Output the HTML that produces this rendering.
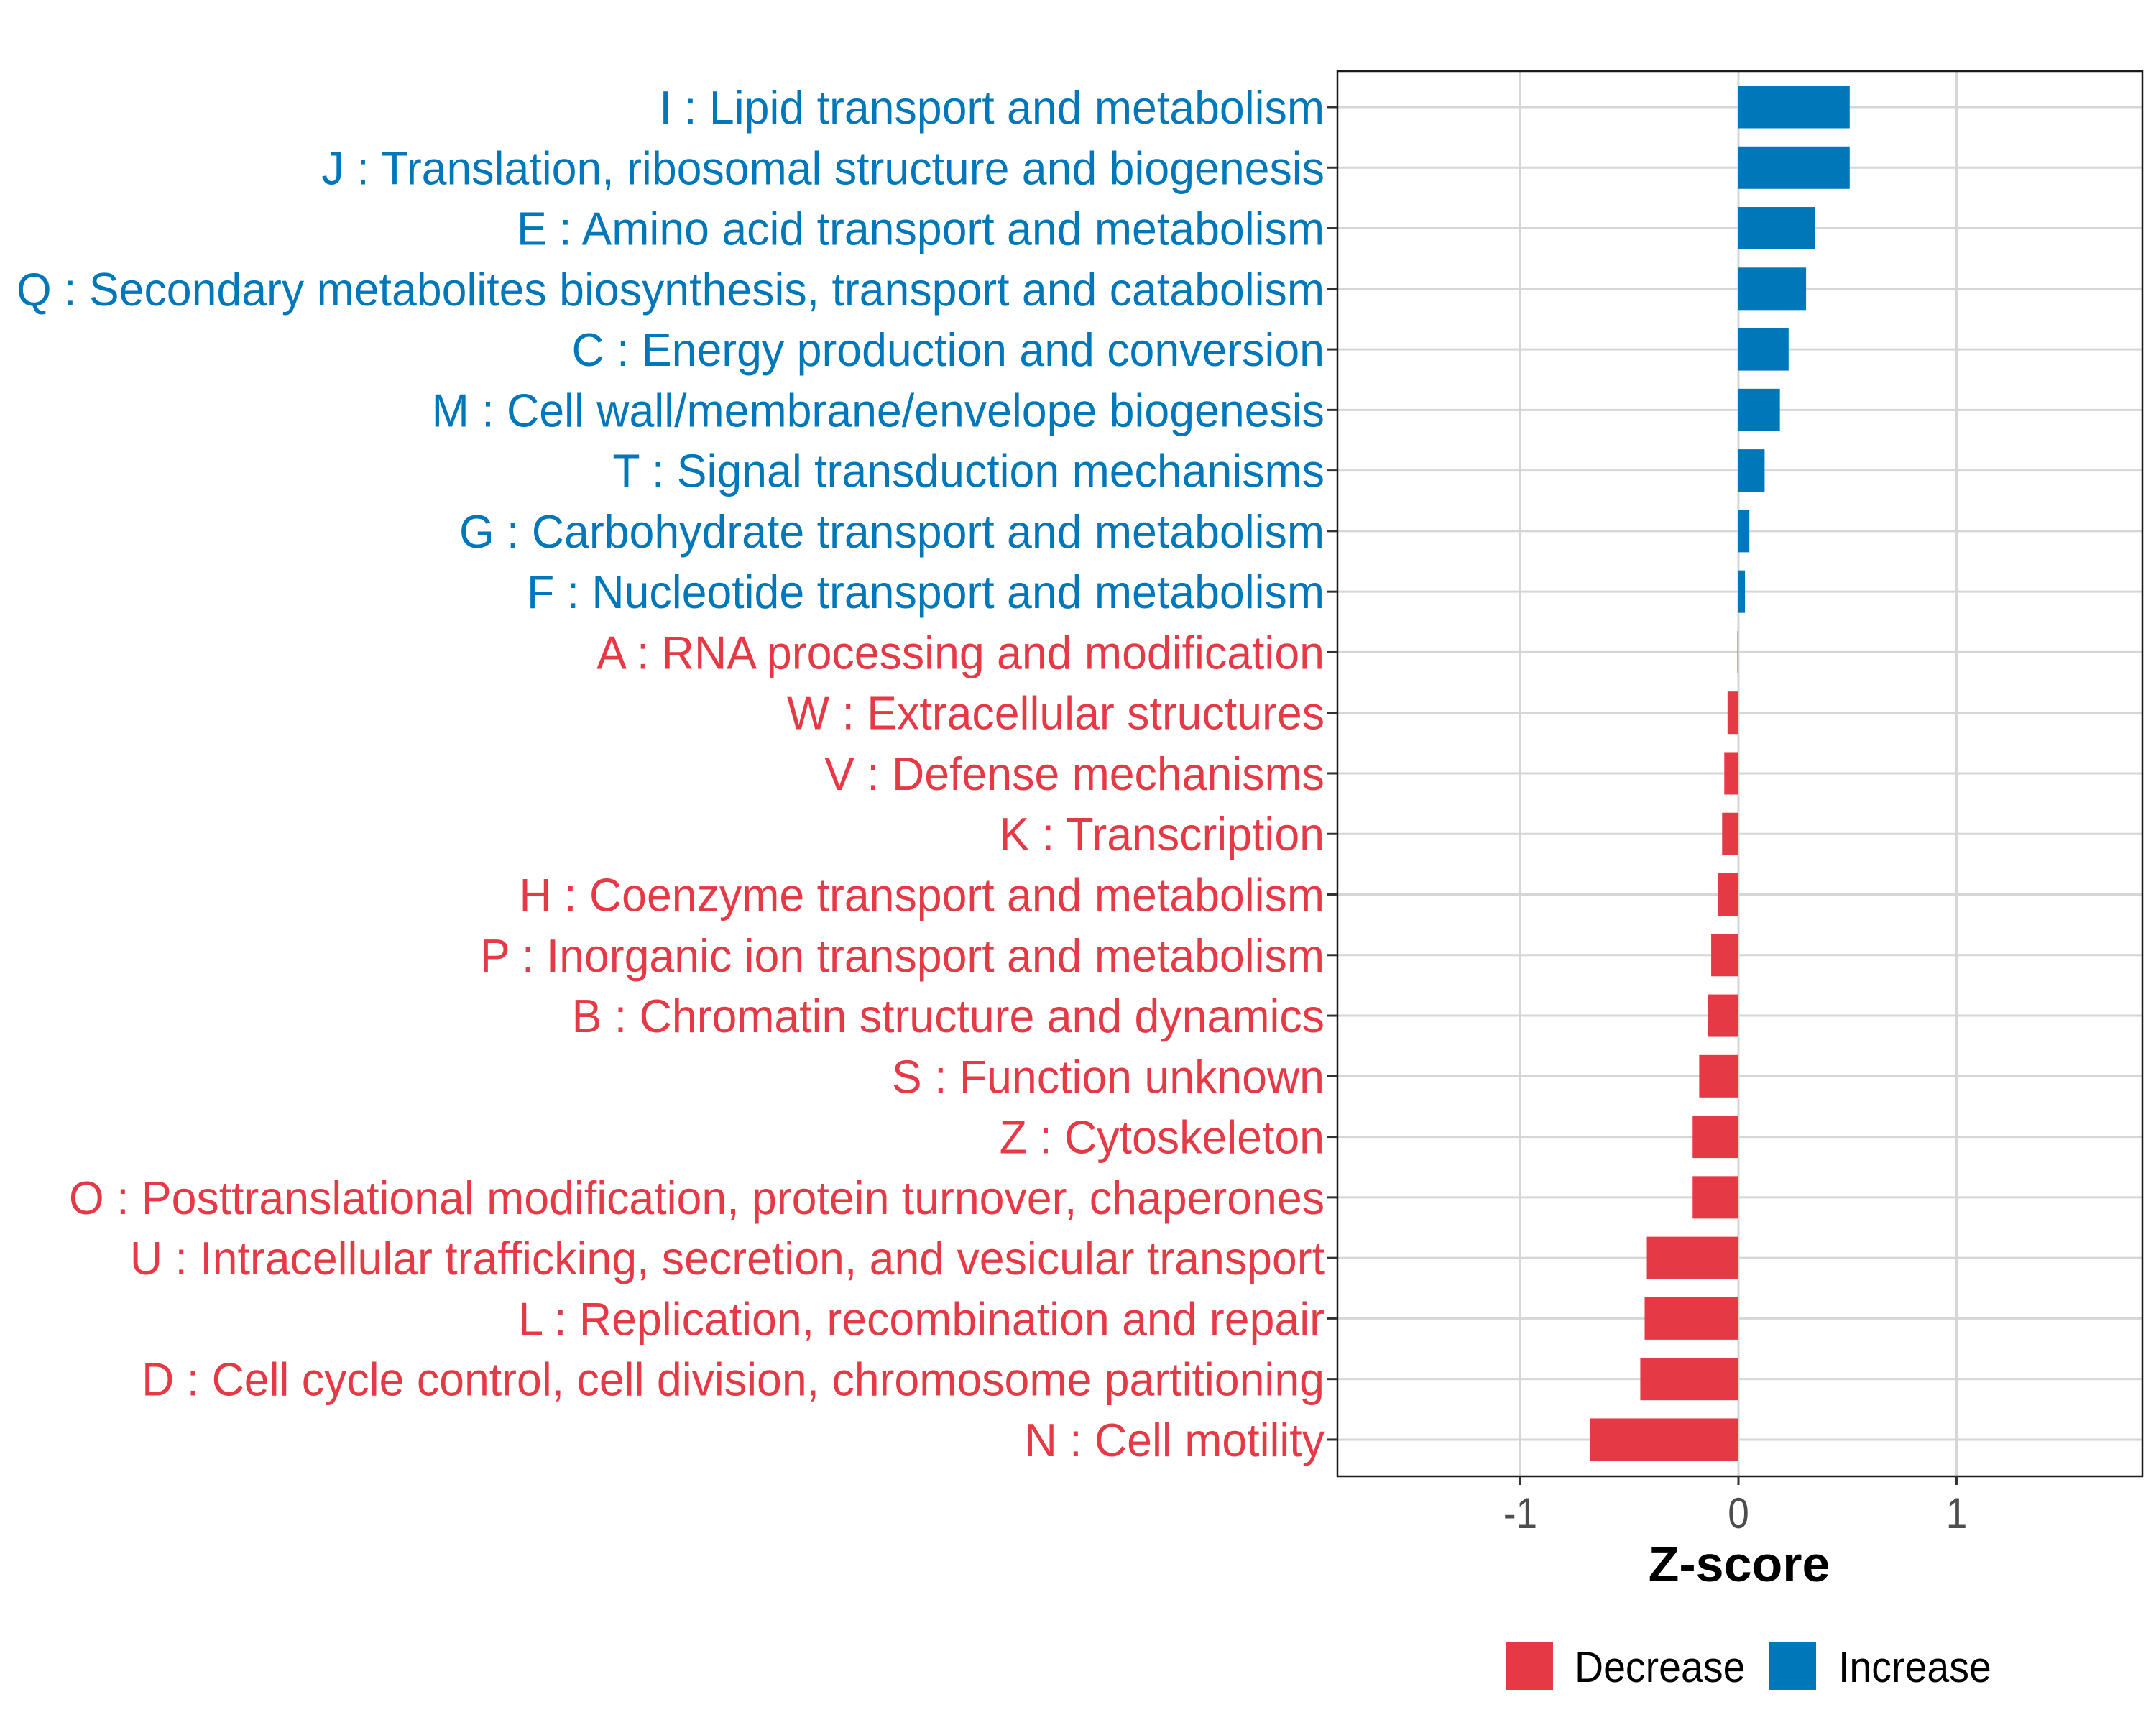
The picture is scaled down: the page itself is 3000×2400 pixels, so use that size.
<!DOCTYPE html>
<html><head><meta charset="utf-8"><style>
html,body{margin:0;padding:0;background:#fff;}
svg{display:block;font-family:"Liberation Sans",Arial,sans-serif;}
</style></head><body>
<svg id="chart" width="3000" height="2400" viewBox="0 0 3000 2400" xmlns="http://www.w3.org/2000/svg">
<rect width="3000" height="2400" fill="#fff"/>
<g id="grid"></g>
<g id="bars"></g>
<rect x="1861" y="99" width="1120" height="1955" fill="none" stroke="#1a1a1a" stroke-width="2.5"/>
<g id="ylabels"></g>
<g id="xaxis"></g>
<text x="2420" y="2200" font-size="70" font-weight="bold" text-anchor="middle" fill="#000">Z-score</text>
<g>
<rect x="2095" y="2285" width="66" height="66" fill="#E63946"/>
<text id="lg1" x="2191" y="2340" font-size="60" fill="#000">Decrease</text>
<rect x="2461" y="2285" width="66" height="66" fill="#0077B8"/>
<text id="lg2" x="2558" y="2340" font-size="60" fill="#000">Increase</text>
</g>
</svg>
<script>
const categories = [
"I : Lipid transport and metabolism",
"J : Translation, ribosomal structure and biogenesis",
"E : Amino acid transport and metabolism",
"Q : Secondary metabolites biosynthesis, transport and catabolism",
"C : Energy production and conversion",
"M : Cell wall/membrane/envelope biogenesis",
"T : Signal transduction mechanisms",
"G : Carbohydrate transport and metabolism",
"F : Nucleotide transport and metabolism",
"A : RNA processing and modification",
"W : Extracellular structures",
"V : Defense mechanisms",
"K : Transcription",
"H : Coenzyme transport and metabolism",
"P : Inorganic ion transport and metabolism",
"B : Chromatin structure and dynamics",
"S : Function unknown",
"Z : Cytoskeleton",
"O : Posttranslational modification, protein turnover, chaperones",
"U : Intracellular trafficking, secretion, and vesicular transport",
"L : Replication, recombination and repair",
"D : Cell cycle control, cell division, chromosome partitioning",
"N : Cell motility"];
const zscores = [0.51,0.51,0.35,0.31,0.23,0.19,0.12,0.05,0.03,-0.005,-0.05,-0.065,-0.075,-0.095,-0.125,-0.14,-0.18,-0.21,-0.21,-0.42,-0.43,-0.45,-0.68];
const xTicks = [-1,0,1];
const xTickLabels = ["-1","0","1"];

const NS="http://www.w3.org/2000/svg";
const X0=2419, UNIT=303.5, Y0=149, STEP=84.27, BARH=59;
const px=v=>X0+v*UNIT;
const py=i=>Y0+i*STEP;
function mk(tag,attrs,parent){const e=document.createElementNS(NS,tag);for(const k in attrs)e.setAttribute(k,attrs[k]);parent.appendChild(e);return e;}
const grid=document.getElementById('grid'),bars=document.getElementById('bars'),yl=document.getElementById('ylabels'),xa=document.getElementById('xaxis');
xTicks.forEach((t,i)=>{
  const l=mk('line',{x1:px(t),x2:px(t),y1:99,y2:2054,stroke:'#d6d6d6','stroke-width':3},grid);
  
  
  const tk=mk('line',{x1:px(t),x2:px(t),y1:2054,y2:2066,stroke:'#333','stroke-width':3},xa);
  
  
  const tx=mk('text',{x:px(t),y:2126,'font-size':60,'text-anchor':'middle',fill:'#4d4d4d'},xa);
  tx.textContent=xTickLabels[i];
  
  
});
const labels=[];
categories.forEach((c,i)=>{
  const y=py(i);
  const g=mk('line',{x1:1861,x2:2981,y1:y,y2:y,stroke:'#d6d6d6','stroke-width':3},grid);
  
  
  const v=zscores[i];
  const col=v>=0?'#0077B8':'#E63946';
  const x1=px(Math.min(0,v)), w=Math.abs(px(v)-px(0));
  const b=mk('rect',{x:x1,y:y-BARH/2,width:Math.max(w,1),height:BARH,fill:col},bars);
  
  
  const tk=mk('line',{x1:1847,x2:1861,y1:y,y2:y,stroke:'#333','stroke-width':3},yl);
  
  
  const t=mk('text',{x:1843,y:y+23,'font-size':65,'text-anchor':'end',fill:col},yl);
  t.textContent=c;
  
  
  labels.push(t);
});
const qw=labels[3].getComputedTextLength();
const k=qw>0?1820/qw:1;
labels.forEach(t=>{const w=t.getComputedTextLength();t.setAttribute('textLength',w*k);t.setAttribute('lengthAdjust','spacingAndGlyphs');});
xa.querySelectorAll('text').forEach(t=>{const w=t.getComputedTextLength();t.setAttribute('textLength',w*k*0.92);t.setAttribute('lengthAdjust','spacingAndGlyphs');});
['lg1','lg2'].forEach(id=>{const t=document.getElementById(id);const w=t.getComputedTextLength();t.setAttribute('textLength',w*k*0.96);t.setAttribute('lengthAdjust','spacingAndGlyphs');});
</script>
</body></html>
